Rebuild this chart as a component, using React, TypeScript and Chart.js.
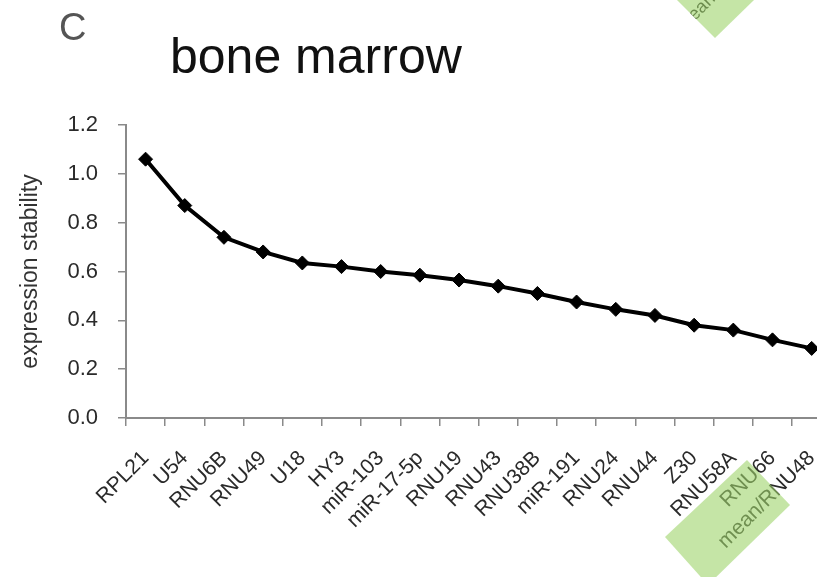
import React, { useEffect, useRef } from "react";
import { Chart, registerables } from "chart.js";

Chart.register(...registerables);

const categories = [
  "RPL21", "U54", "RNU6B", "RNU49", "U18", "HY3", "miR-103", "miR-17-5p", "RNU19",
  "RNU43", "RNU38B", "miR-191", "RNU24", "RNU44", "Z30", "RNU58A", "RNU66", "mean/RNU48",
];
const stability = [
  1.06, 0.87, 0.74, 0.68, 0.635, 0.62, 0.6, 0.585, 0.565,
  0.54, 0.51, 0.475, 0.445, 0.42, 0.38, 0.36, 0.32, 0.285,
];
const yTicks = [0, 0.2, 0.4, 0.6, 0.8, 1.0, 1.2];
const panelLetter = "C";
const chartTitle = "bone marrow";
const yTitle = "expression stability";

const FONT = "'Liberation Sans', Arial, Helvetica, sans-serif";

const decorPlugin = {
  id: "decor",
  afterDraw(chart: any) {
    const ctx = chart.ctx as CanvasRenderingContext2D;
    ctx.save();
    // panel letter and title
    ctx.textBaseline = "alphabetic";
    ctx.textAlign = "left";
    ctx.fillStyle = "#555";
    ctx.font = `38px ${FONT}`;
    ctx.fillText(panelLetter, 59, 40);
    ctx.fillStyle = "#111";
    ctx.font = `50px ${FONT}`;
    ctx.fillText(chartTitle, 170, 73);

    // top green diamond, with a fragment of text clipped inside it
    const topDiamond = () => {
      ctx.beginPath();
      ctx.moveTo(677, 0);
      ctx.lineTo(715, 38);
      ctx.lineTo(754, 0);
      ctx.lineTo(715, -40);
      ctx.closePath();
    };
    ctx.save();
    topDiamond();
    ctx.clip();
    ctx.translate(716, 0);
    ctx.rotate(-Math.PI / 4);
    ctx.fillStyle = "#222";
    ctx.font = `18px ${FONT}`;
    ctx.textAlign = "right";
    ctx.fillText("mean", 0, 0);
    ctx.restore();

    ctx.fillStyle = "rgba(158,212,107,0.6)";
    topDiamond();
    ctx.fill();

    ctx.beginPath();
    ctx.moveTo(747, 460);
    ctx.lineTo(790, 505);
    ctx.lineTo(708, 585);
    ctx.lineTo(665, 537);
    ctx.closePath();
    ctx.fill();
    ctx.restore();
  },
};

export default function App() {
  const ref = useRef<HTMLCanvasElement | null>(null);

  useEffect(() => {
    if (!ref.current) return;
    const chart = new Chart(ref.current, {
      type: "line",
      data: {
        labels: categories,
        datasets: [
          {
            data: stability,
            borderColor: "#000",
            backgroundColor: "#000",
            borderWidth: 4,
            pointStyle: "rectRot",
            pointRadius: 7,
            pointBackgroundColor: "#000",
            pointBorderColor: "#000",
            pointBorderWidth: 1,
            tension: 0,
            fill: false,
          },
        ],
      },
      options: {
        animation: false,
        responsive: false,
        maintainAspectRatio: false,
        devicePixelRatio: 1,
        layout: { padding: { top: 125, right: 18, left: 0, bottom: 0 } },
        plugins: {
          legend: { display: false },
          title: { display: false },
          tooltip: { enabled: false },
        },
        scales: {
          x: {
            type: "category",
            offset: true,
            afterFit(scale: any) {
              scale.height = 159;
            },
            grid: {
              offset: true,
              drawOnChartArea: false,
              drawTicks: true,
              tickLength: 8,
              color: "#8a8a8a",
              lineWidth: 1.5,
            },
            border: { display: true, color: "#8a8a8a", width: 2 },
            ticks: {
              autoSkip: false,
              maxRotation: 45,
              minRotation: 45,
              padding: 20,
              labelOffset: 0,
              color: "#2a2a2a",
              font: { family: FONT, size: 21 },
            },
          },
          y: {
            min: 0,
            max: 1.2,
            afterFit(scale: any) {
              scale.width = 126;
            },
            afterBuildTicks(scale: any) {
              scale.ticks = yTicks.map((v) => ({ value: v }));
            },
            grid: {
              drawOnChartArea: false,
              drawTicks: true,
              tickLength: 8,
              color: "#8a8a8a",
              lineWidth: 1.5,
            },
            border: { display: true, color: "#8a8a8a", width: 2 },
            ticks: {
              padding: 20,
              color: "#2a2a2a",
              font: { family: FONT, size: 22 },
              callback: (v: any) => Number(v).toFixed(1),
            },
            title: {
              display: true,
              text: yTitle,
              color: "#333",
              font: { family: FONT, size: 23 },
              padding: { top: 17, bottom: 0 },
            },
          },
        },
      },
      plugins: [decorPlugin],
    });
    return () => chart.destroy();
  }, []);

  return (
    <div
      style={{
        position: "absolute",
        left: 0,
        top: 0,
        width: 817,
        height: 577,
        overflow: "hidden",
        background: "#fff",
      }}
    >
      <canvas
        ref={ref}
        width={850}
        height={577}
        style={{ display: "block", width: 850, height: 577 }}
      />
    </div>
  );
}
